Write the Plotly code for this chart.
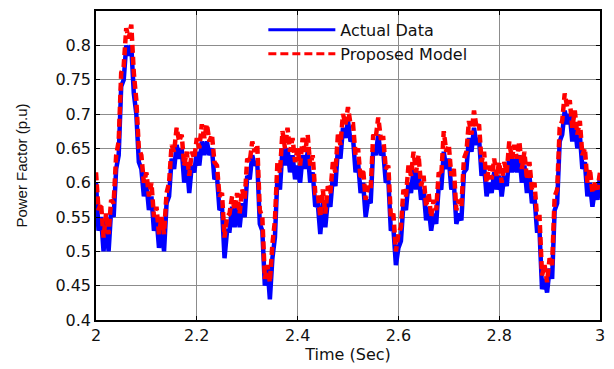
import numpy as np
import plotly.graph_objects as go

# time axis (s), 0.005 s spacing
time_s = np.round(np.arange(2.0, 3.0001, 0.005), 3)

actual_pf = [
    0.60, 0.53, 0.55, 0.50, 0.545, 0.50, 0.56, 0.55, 0.62, 0.64,
    0.74, 0.75, 0.80, 0.785, 0.80, 0.73, 0.70, 0.63, 0.62, 0.58,
    0.60, 0.56, 0.58, 0.53, 0.55, 0.505, 0.535, 0.50, 0.57, 0.58,
    0.635, 0.62, 0.655, 0.635, 0.65, 0.60, 0.63, 0.585, 0.625, 0.615,
    0.645, 0.625, 0.66, 0.64, 0.66, 0.64, 0.65, 0.605, 0.61, 0.56,
    0.565, 0.49, 0.53, 0.53, 0.565, 0.535, 0.565, 0.535, 0.57, 0.55,
    0.61, 0.605, 0.64, 0.625, 0.63, 0.54, 0.53, 0.45, 0.48, 0.43,
    0.49, 0.52, 0.61, 0.59, 0.65, 0.625, 0.65, 0.615, 0.64, 0.605,
    0.625, 0.60, 0.64, 0.62, 0.645, 0.60, 0.615, 0.565, 0.57, 0.525,
    0.57, 0.535, 0.575, 0.565, 0.61, 0.595, 0.65, 0.635, 0.68, 0.665,
    0.69, 0.66, 0.665, 0.615, 0.63, 0.585, 0.60, 0.55, 0.575, 0.57,
    0.65, 0.64, 0.67, 0.64, 0.645, 0.60, 0.605, 0.53, 0.535, 0.48,
    0.505, 0.515, 0.57, 0.56, 0.60, 0.585, 0.62, 0.59, 0.615, 0.575,
    0.59, 0.545, 0.565, 0.53, 0.555, 0.54, 0.595, 0.59, 0.645, 0.62,
    0.635, 0.59, 0.60, 0.54, 0.555, 0.545, 0.615, 0.62, 0.665, 0.645,
    0.68, 0.655, 0.665, 0.61, 0.625, 0.58, 0.60, 0.585, 0.615, 0.59,
    0.61, 0.58, 0.61, 0.595, 0.64, 0.615, 0.635, 0.615, 0.64, 0.60,
    0.625, 0.585, 0.61, 0.57, 0.58, 0.53, 0.53, 0.445, 0.46, 0.44,
    0.475, 0.46, 0.56, 0.57, 0.66, 0.67, 0.705, 0.685, 0.70, 0.66,
    0.685, 0.65, 0.67, 0.62, 0.63, 0.58, 0.60, 0.565, 0.59, 0.575,
    0.61,
]

model_pf = [
    0.615, 0.56, 0.57, 0.52, 0.555, 0.525, 0.575, 0.57, 0.64, 0.66,
    0.76, 0.77, 0.825, 0.81, 0.83, 0.76, 0.72, 0.65, 0.64, 0.60,
    0.615, 0.58, 0.60, 0.55, 0.565, 0.525, 0.55, 0.525, 0.585, 0.60,
    0.655, 0.645, 0.68, 0.66, 0.67, 0.625, 0.645, 0.61, 0.645, 0.635,
    0.665, 0.65, 0.685, 0.665, 0.685, 0.66, 0.67, 0.63, 0.625, 0.58,
    0.585, 0.52, 0.55, 0.555, 0.58, 0.56, 0.585, 0.555, 0.59, 0.575,
    0.635, 0.63, 0.66, 0.645, 0.655, 0.56, 0.55, 0.46, 0.48, 0.455,
    0.51, 0.545, 0.63, 0.615, 0.675, 0.65, 0.68, 0.645, 0.665, 0.63,
    0.65, 0.625, 0.665, 0.645, 0.67, 0.625, 0.64, 0.585, 0.585, 0.55,
    0.59, 0.555, 0.595, 0.585, 0.63, 0.615, 0.67, 0.655, 0.70, 0.685,
    0.71, 0.685, 0.685, 0.64, 0.65, 0.605, 0.62, 0.575, 0.595, 0.59,
    0.67, 0.665, 0.695, 0.665, 0.665, 0.62, 0.625, 0.55, 0.555, 0.50,
    0.525, 0.535, 0.59, 0.58, 0.625, 0.61, 0.645, 0.615, 0.64, 0.595,
    0.61, 0.565, 0.585, 0.55, 0.575, 0.56, 0.615, 0.61, 0.675, 0.645,
    0.655, 0.61, 0.62, 0.56, 0.575, 0.565, 0.635, 0.645, 0.69, 0.67,
    0.705, 0.68, 0.685, 0.63, 0.645, 0.60, 0.625, 0.605, 0.635, 0.61,
    0.63, 0.60, 0.63, 0.615, 0.66, 0.635, 0.655, 0.635, 0.66, 0.62,
    0.645, 0.605, 0.63, 0.59, 0.60, 0.55, 0.55, 0.465, 0.48, 0.455,
    0.49, 0.48, 0.58, 0.59, 0.68, 0.69, 0.73, 0.71, 0.72, 0.68,
    0.705, 0.67, 0.69, 0.64, 0.65, 0.60, 0.62, 0.585, 0.60, 0.59,
    0.615,
]

x_ticks = [2, 2.2, 2.4, 2.6, 2.8, 3]
y_ticks = [0.4, 0.45, 0.5, 0.55, 0.6, 0.65, 0.7, 0.75, 0.8]

WIDE = "DejaVu Sans, Verdana, sans-serif"
ARIAL = "Liberation Sans, Arial, sans-serif"

BLUE = "#0000ff"
RED = "#ff0000"
RED_DASH = "8px,4px"

fig = go.Figure()
fig.add_trace(go.Scatter(
    x=time_s, y=actual_pf, mode="lines", name="Actual Data",
    legendgroup="a", showlegend=False,
    line=dict(color=BLUE, width=4.5, simplify=False),
))
fig.add_trace(go.Scatter(
    x=time_s, y=model_pf, mode="lines", name="Proposed Model",
    legendgroup="b", showlegend=False,
    line=dict(color=RED, width=4.5, dash=RED_DASH, simplify=False),
))
# legend entries (thinner sample lines, as in the original legend)
fig.add_trace(go.Scatter(
    x=[None], y=[None], mode="lines", name="Actual Data", legendgroup="a",
    line=dict(color=BLUE, width=3),
))
fig.add_trace(go.Scatter(
    x=[None], y=[None], mode="lines", name="Proposed Model", legendgroup="b",
    line=dict(color=RED, width=3, dash=RED_DASH),
))

axis_common = dict(
    showline=True, linecolor="black", linewidth=1.5, mirror="ticks",
    ticks="inside", ticklen=4, tickcolor="black",
    showgrid=True, gridcolor="#8c8c8c", gridwidth=1,
    zeroline=False, tickfont=dict(family=WIDE, size=16, color="#111111"),
)

fig.update_xaxes(
    range=[2, 3], tickvals=x_ticks, ticktext=[str(v) for v in x_ticks],
    title=dict(text="Time (Sec)", font=dict(family=WIDE, size=16, color="#111111"), standoff=4),
    **axis_common,
)
fig.update_yaxes(
    range=[0.4, 0.85], tickvals=y_ticks, ticktext=[f"{v:g}" for v in y_ticks],
    title=dict(text="Power Factor (p.u)", font=dict(family=ARIAL, size=15, color="#111111"), standoff=24),
    **axis_common,
)

# white box behind legend hiding gridlines
fig.add_shape(type="rect", xref="paper", yref="paper",
              x0=(255 - 96) / 509, x1=(508 - 96) / 509, y0=(326 - 65) / 317, y1=1,
              fillcolor="white", line=dict(width=0), layer="between")

fig.update_layout(
    width=614, height=369,
    margin=dict(l=96, r=9, t=9, b=43),
    paper_bgcolor="white", plot_bgcolor="white",
    showlegend=True,
    legend=dict(
        x=(265 - 96) / 509, y=(326 - 11) / 317, xanchor="left", yanchor="top",
        bgcolor="rgba(0,0,0,0)", borderwidth=0, itemwidth=67,
        font=dict(family=WIDE, size=16, color="#111111"),
        tracegroupgap=0,
    ),
)

fig.write_html("out.html")
